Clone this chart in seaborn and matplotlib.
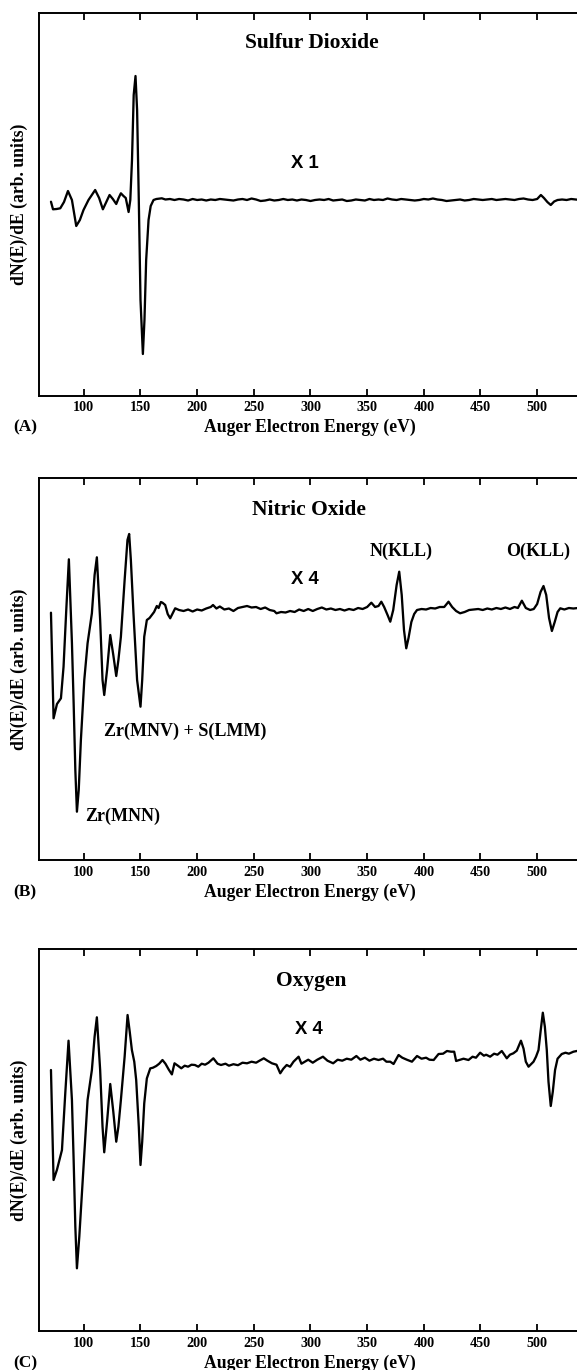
import matplotlib
matplotlib.use("Agg")
import matplotlib.pyplot as plt
import seaborn as sns
import pandas as pd

# ---------------- data (energy in eV, dN/dE in arbitrary units) ----------------
# (A) Sulfur dioxide, x1
E_A = [71, 72.8, 76, 79.2, 82.5, 86, 89.5, 93.3, 96.5, 99.7,
       104.1, 107, 110, 113.5, 116.8, 119.8, 122.7, 125.6, 128.6, 130.7,
       132.7, 135, 137, 139.5, 141, 142.5, 144, 145.6, 147, 148.5,
       150, 152.1, 153.5, 155, 157.1, 159, 161.5, 164, 168.8, 172,
       176,
       180, 184, 188, 192, 196, 200, 204, 208, 212, 216, 220, 224,
       228, 232, 236, 240, 244, 248, 252, 256, 260, 264, 268, 272,
       276, 280, 284, 288, 292, 296, 300, 304, 308, 312, 316, 320,
       324, 328, 332, 336, 340, 344, 348, 352, 356, 360, 364, 368,
       372, 376, 380, 384, 388, 392, 396, 400, 404, 408, 412, 416,
       420, 424, 428, 432, 436, 440, 444, 448, 452, 456, 460, 464,
       468, 472, 476, 480, 484, 488, 492, 496,
       500, 503.3, 506, 509, 512, 515, 518, 522, 526, 530, 534, 538, 542, 546]
V_A = [-1.7, -9.3, -9, -8.3, -2, 9, 0, -26, -20, -10,
       0, 5, 10, 2, -9.3, -2, 5, 1, -4, 2,
       6.7, 4, 2, -12, 0, 40, 105, 124, 90, 0,
       -100, -154, -120, -60, -20, -6, 0, 1, 1.7, 0.5,
       1,
       0, 1, 0.5, -0.5, 1, 0, 0.5, -0.5, 0.5, 0, 1, 0.5,
       0, -0.5, 0.5, 1, 0, 1.5, 0.5, -1, -0.5, 0.5, -0.5, 0,
       1, 0, 0.5, -0.5, 0.5, 0, -1, 0, 0.5, 0, 1, -0.5,
       0, 0.5, -1, -0.5, 0.5, 0, -0.5, 1, 0, 0.5, 0, 1.5,
       0.5, 0, 1, 0.5, 0, -0.5, 0, 1, 0.5, 1.5, 0.5, 0,
       -1, -0.5, 0, 0.5, -0.5, 0, 1, 0.5, 0, 0.5, 1, 0,
       0.5, 1, 0.5, 0, 1, 1.5, 0.5, 0,
       1, 5, 2, -2, -5, -1.5, 0, 0.5, 0, 1, 0.5, 0, 0.5, 0]

# (B) Nitric oxide, x4
E_B = [71, 73.3, 76.3, 79.8, 82.1, 84.5, 86.8, 89.5, 91, 92.5,
       93.9, 95.5, 97.4, 100.4, 103.3, 107.1, 109.5, 111.5, 114.4, 116.5,
       118, 120.5, 123.3, 126, 128.6, 130.5, 132.7, 136, 138.5, 140,
       141.5, 143.8, 147, 150, 151.5, 153.3, 155.6, 158, 160, 162,
       164.4, 166, 168, 169.4, 171.8, 174, 176.2, 178.5, 180.6,
       184, 188, 192, 196, 200, 204, 208, 212, 214, 217,
       220, 224, 228, 232, 236, 240, 244, 248, 252, 256,
       260, 264, 268, 270, 274, 278, 282, 286, 290, 294,
       298, 302, 306, 310, 314, 318, 322, 326, 330, 334,
       338, 342, 346, 350, 353.7, 357, 360, 362.5, 365, 368,
       370.4, 373, 376, 378.3, 380.5, 382.5, 384.5, 386.5, 389, 391.5,
       394, 398, 402, 406, 410, 414, 418, 421.8, 425, 428.5,
       432, 436, 440, 444, 448, 452, 456, 460, 464, 468,
       472, 476, 480, 483, 486.5, 490, 493.8, 497, 500, 503,
       505.6, 508, 510.5, 513, 515.5, 518, 520.4, 524, 528, 532,
       536, 540, 546]
V_B = [-2.7, -108.3, -94, -88.3, -56.7, 0, 50.7, -33, -93, -160,
       -201.7, -180, -130, -70, -33.3, -3.3, 35, 52.7, -10, -70,
       -85, -60, -25, -45, -66, -50, -26.7, 30, 70, 76,
       50, -3.3, -70, -96.7, -70, -26.7, -10, -8, -5, -2,
       4, 2, 8, 7.3, 5, -4, -8.3, -3, 1.7,
       0, -1, 0.5, -1.5, 0.5, -0.5, 1.5, 3, 5, 1.5,
       3.5, 0.5, 1.5, -1, 2, 3, 4, 2.5, 3, 1,
       2.5, 0, -1, -3.3, -2, -2.5, -1, -2, 0.5, -1,
       1, -1, 1, 2.5, 0.5, 1.5, 0, 1, -0.5, 1,
       0, 2, 1, 3, 7.3, 3, 4, 8.3, 3, -5,
       -11.7, 0, 25, 38.3, 15, -20, -38.3, -28, -12, -4,
       0, 1, 0.5, 2, 1.5, 3, 3, 8.3, 3, -1,
       -3.3, -2, 0, 0.5, 1, 0, 1.5, 0.5, 2, 1,
       2.5, 1, 3, 2, 9.3, 2, 0, 1, 6, 18,
       24, 15, -8, -21, -12, -2, 1.7, 0.5, 2, 1.5,
       2, 1.5, 2]

# (C) Oxygen, x4
E_C = [71, 73.3, 76.3, 80.7, 83.6, 86.5, 89.5, 91, 92.5, 93.9,
       96, 98.3, 101.3, 103.3, 107.1, 109.5, 111.5, 114.4, 116.5, 118,
       120.5, 123.3, 126, 128.6, 130.5, 132.7, 136, 138.6, 140.5, 142.4,
       144.5, 146.2, 148.5, 150, 151.5, 153.3, 155.6, 158.6, 161, 163.9,
       166.5, 169.4, 172, 175, 177.7, 180, 183,
       186, 189, 192, 195, 198, 201, 204, 207, 210, 214.3,
       218, 221, 225, 228, 232, 236, 240, 244, 248, 252,
       255, 258.8, 262, 266, 270, 273.3, 276, 279, 282, 285,
       289.5, 292, 295, 298, 302, 306, 311, 315, 320, 324,
       328, 332, 336, 340.5, 344, 348, 352, 356, 360, 364,
       367, 370.4, 373.3, 377.7, 381, 385, 389.5, 394, 398, 402,
       405, 408.7, 413, 417, 420.4, 424, 426.8, 428.5, 432, 435,
       439.4, 443, 446, 449.7, 453, 455, 458.5, 462, 465, 468.8,
       473.2, 476, 479, 482, 485.7, 488, 490, 492.4, 496.8, 499,
       501.2, 503, 505, 506.8, 508.5, 510, 512, 513.8, 515.8, 518,
       521.7, 525, 528, 532, 535, 540, 546]
V_C = [-3.3, -113.3, -103, -83.3, -27, 26, -33.3, -93, -160, -201.6,
       -170, -126.6, -70, -33.3, -3.3, 30, 49.4, -3.3, -60, -85.6,
       -55, -17.3, -45, -75, -60, -33.3, 10, 51.7, 35, 16.7,
       5, -13.3, -60, -98.3, -75, -36.7, -11.7, -1.7, -1, 0.7,
       3, 6.7, 3, -3, -7.7, 3.4, 1,
       -1.6, 1, 0, 2, 1.7, 0, 3, 2, 4, 8.4,
       3, 1.7, 3, 1, 2.5, 1.5, 4, 3.4, 5, 4,
       6, 8.4, 6, 3.4, 2, -6.6, -2, 1.7, 0, 5,
       10, 3, 5, 7, 4, 7, 10, 6, 3.4, 7,
       6, 8, 7, 10.7, 7, 9, 6, 8, 6.7, 8,
       5, 5, 2.7, 11.7, 9, 7, 5, 10.7, 8, 9,
       7, 6.7, 12.7, 13, 15.7, 15, 15, 5.7, 7, 8,
       6.7, 10, 9, 14, 11, 12, 10, 13, 12, 15.7,
       8.4, 12, 13.4, 16, 26, 18, 5, 0, 5, 10,
       16.7, 35, 54, 40, 16.7, -15, -39.3, -25, -3.3, 8,
       12.7, 14, 13, 15, 15.7, 15, 15]

assert len(E_A) == len(V_A) and len(E_B) == len(V_B) and len(E_C) == len(V_C)

PANEL_TITLES = ["Sulfur Dioxide", "Nitric Oxide", "Oxygen"]
SCALE_LABELS = ["X 1", "X 4", "X 4"]
PANEL_LETTERS = ["(A)", "(B)", "(C)"]
XTICKS = [100, 150, 200, 250, 300, 350, 400, 450, 500]

# ---------------- figure ----------------
sns.set_style("white")
plt.rcParams["font.family"] = ["Liberation Serif", "DejaVu Serif"]
plt.rcParams["font.weight"] = "bold"
plt.rcParams["text.color"] = "black"
plt.rcParams["axes.labelcolor"] = "black"
plt.rcParams["xtick.color"] = "black"
plt.rcParams["axes.edgecolor"] = "black"

W, H = 577, 1370
fig = plt.figure(figsize=(W / 100, H / 100), dpi=100)

def fx(px):
    return px / W

def fy(py):
    return 1 - py / H

left_px = 38.5
xmin, xmax = 60, 590
px_per_ev = 1.1333
width_px = (xmax - xmin) * px_per_ev

panels = [
    (13.3, 395.7, -195.7, 186.7, E_A, V_A),
    (478.3, 860.0, -250.0, 131.7, E_B, V_B),
    (949.3, 1331.0, -264.3, 117.4, E_C, V_C),
]

axes = []
for i, (top, bot, ymin, ymax, E, V) in enumerate(panels):
    ax = fig.add_axes([fx(left_px), fy(bot), width_px / W, (bot - top) / H])
    df = pd.DataFrame({"E": E, "V": V})
    sns.lineplot(data=df, x="E", y="V", ax=ax, color="black", linewidth=1.65,
                 estimator=None, sort=False, solid_joinstyle="round",
                 solid_capstyle="round")
    ax.set_xlim(xmin, xmax)
    ax.set_ylim(ymin, ymax)
    ax.set_xticks(XTICKS)
    ax.set_xticklabels([str(t) for t in XTICKS])
    ax.set_yticks([])
    ax.set_xlabel("")
    ax.set_ylabel("")
    ax.tick_params(axis="x", direction="in", top=True, bottom=True, length=5,
                   width=1.3, labelsize=10.2, pad=4, colors="black")
    for lab in ax.get_xticklabels():
        lab.set_fontweight("bold")
        lab.set_color("black")
    for s in ax.spines.values():
        s.set_linewidth(1.4)
        s.set_color("black")
        s.set_visible(True)
    axes.append(ax)

    fig.text(fx(310), fy(bot + 32), "Auger Electron Energy (eV)", ha="center",
             va="center", fontsize=12.7, fontweight="bold", color="black")
    fig.text(fx(25), fy(bot + 32), PANEL_LETTERS[i], ha="center", va="center",
             fontsize=12.5, fontweight="bold", color="black")
    fig.text(fx(19), fy((top + bot) / 2), "dN(E)/dE (arb. units)", ha="center",
             va="center", rotation=90, fontsize=12.7, fontweight="bold", color="black")

axA, axB, axC = axes
sans = ["Liberation Sans", "DejaVu Sans"]

axA.text(301, 156.7, PANEL_TITLES[0], ha="center", va="center", fontsize=15.5, fontweight="bold")
axA.text(295, 36.7, SCALE_LABELS[0], ha="center", va="center", fontsize=13.3,
         fontweight="bold", family=sans)

axB.text(299, 100, PANEL_TITLES[1], ha="center", va="center", fontsize=15.5, fontweight="bold")
axB.text(295, 30, SCALE_LABELS[1], ha="center", va="center", fontsize=13.3,
         fontweight="bold", family=sans)
axB.text(380, 58.3, "N(KLL)", ha="center", va="center", fontsize=13, fontweight="bold")
axB.text(501, 58.3, "O(KLL)", ha="center", va="center", fontsize=13, fontweight="bold")
axB.text(118, -121.7, "Zr(MNV) + S(LMM)", ha="left", va="center", fontsize=13, fontweight="bold")
axB.text(101.2, -206.7, "Zr(MNN)", ha="left", va="center", fontsize=13, fontweight="bold")

axC.text(300.6, 86, PANEL_TITLES[2], ha="center", va="center", fontsize=15.5, fontweight="bold")
axC.text(298.4, 36.7, SCALE_LABELS[2], ha="center", va="center", fontsize=13.3,
         fontweight="bold", family=sans)

fig.savefig("out.png", dpi=100, facecolor="white")
